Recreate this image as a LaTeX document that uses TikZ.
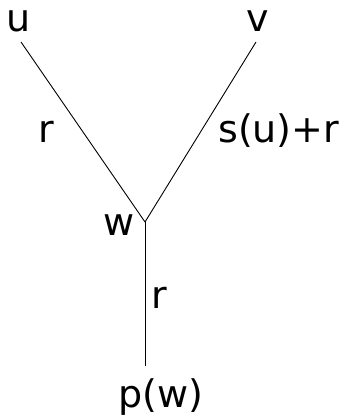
\documentclass[tikz,border=0pt]{standalone}
\usepackage{fontspec}
\setmainfont{DejaVu Sans}
\begin{document}
\begin{tikzpicture}[x=1pt,y=1pt,
  lbl/.style={inner sep=0pt, font=\fontsize{38}{44}\selectfont},
  edge/.style={line width=0.9pt}]
\useasboundingbox (0,0) rectangle (354,419);
% tree vertices (line ends)
\coordinate (cu) at (21,377);
\coordinate (cv) at (256,377);
\coordinate (cw) at (145,197);
\coordinate (cp) at (145,53);
% labels
\node[lbl, anchor=base] (u) at (19,387) {u};
\node[lbl, anchor=base] (v) at (258,387) {v};
\node[lbl, anchor=base] (w) at (119,183) {w};
\node[lbl, anchor=base] (p) at (161,12) {p(w)};
\node[lbl, anchor=base] (r1) at (46,276) {r};
\node[lbl, anchor=base west] (r2) at (218,276) {s(u)+r};
\node[lbl, anchor=base] (r3) at (159,110) {r};
% edges
\draw[edge] (cu) -- (cw);
\draw[edge] (cv) -- (cw);
\draw[edge] (cw) -- (cp);
\end{tikzpicture}
\end{document}
